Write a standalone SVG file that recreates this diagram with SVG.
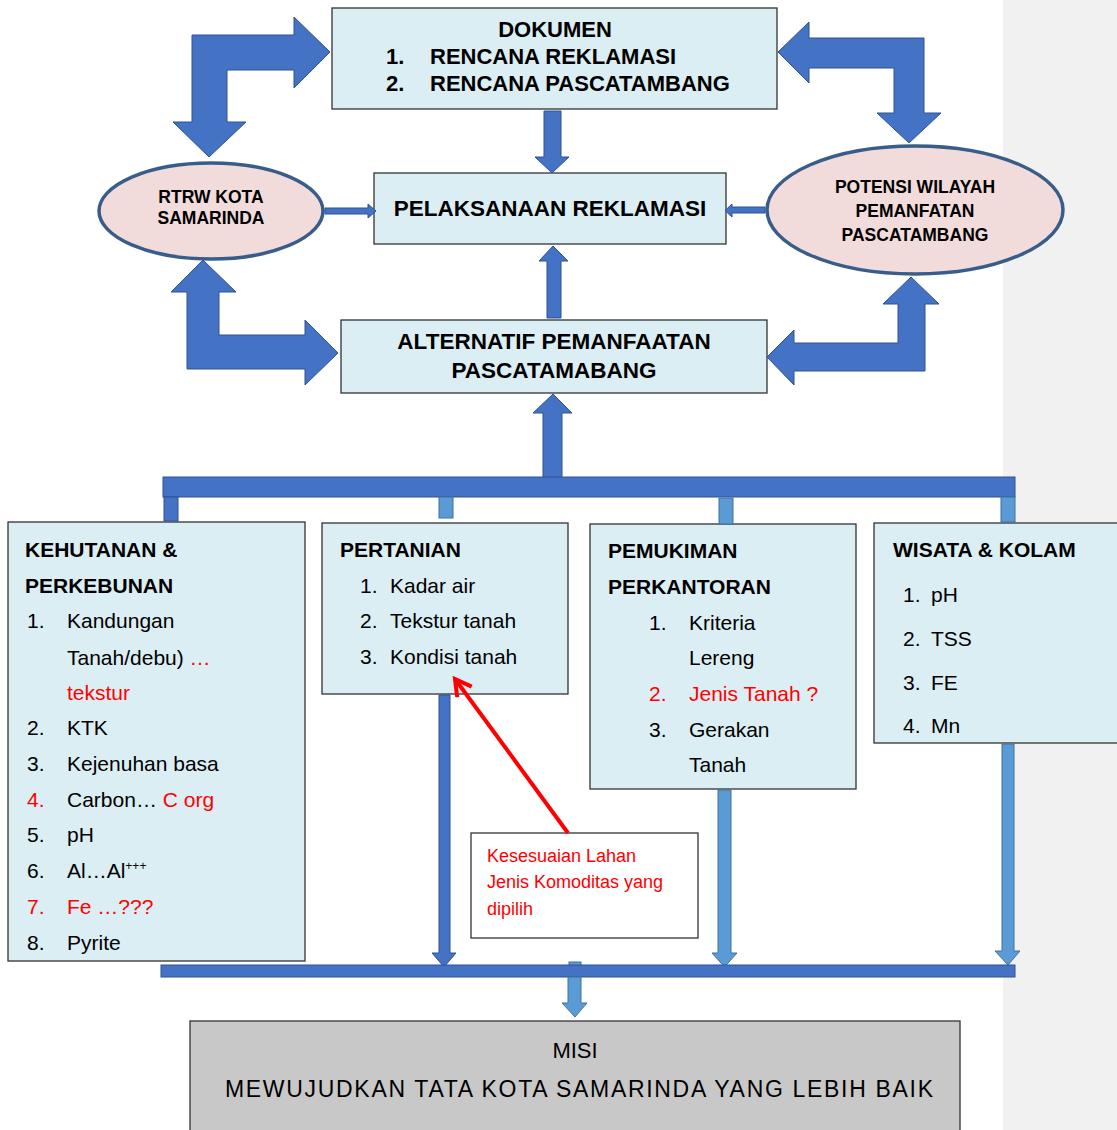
<svg xmlns="http://www.w3.org/2000/svg" width="1117" height="1130" viewBox="0 0 1117 1130">
<style>
.box{fill:#dbeef4;stroke:#333;stroke-width:1.3}
.ell{fill:#f2dcdb;stroke:#385d8a;stroke-width:3.5}
.ba{fill:#4472c4;stroke:#2f528f;stroke-width:1}
.la{fill:#5b9bd5;stroke:#41719c;stroke-width:1}
.t1{font-family:"Liberation Sans",Arial,sans-serif;font-weight:bold;fill:#000}
.hw{font-family:"Liberation Sans",Arial,sans-serif;font-size:21px;fill:#000}
.hh{font-family:"Liberation Sans",Arial,sans-serif;font-size:21px;font-weight:bold;fill:#000}
.red{fill:#ff0000}
</style>
<defs>
<marker id="redhead" markerUnits="userSpaceOnUse" markerWidth="24" markerHeight="24" refX="18" refY="10" orient="auto">
<path d="M2,1 L18,10 L2,19" fill="none" stroke="#ff0000" stroke-width="4" stroke-linejoin="miter"/>
</marker>
</defs>
<rect x="1003" y="0" width="114" height="1130" fill="#f1f1f1"/>

<g id="dokumen">
<rect class="box" x="332" y="8" width="445" height="101"/>
<text class="t1" font-size="22" x="555" y="37" text-anchor="middle">DOKUMEN</text>
<text class="t1" font-size="22" x="386" y="64">1.</text>
<text class="t1" font-size="22" x="430" y="64">RENCANA REKLAMASI</text>
<text class="t1" font-size="22" x="386" y="91">2.</text>
<text class="t1" font-size="22" x="430" y="91">RENCANA PASCATAMBANG</text>
</g>

<g id="pelaksanaan">
<rect class="box" x="374" y="173" width="352" height="71"/>
<text class="t1" font-size="22.5" x="550" y="216" text-anchor="middle">PELAKSANAAN REKLAMASI</text>
</g>

<g id="alternatif">
<rect class="box" x="341" y="320" width="426" height="73"/>
<text class="t1" font-size="22.5" x="554" y="349" text-anchor="middle">ALTERNATIF PEMANFAATAN</text>
<text class="t1" font-size="22.5" x="554" y="378" text-anchor="middle">PASCATAMABANG</text>
</g>

<g id="rtrw">
<ellipse class="ell" cx="211" cy="211" rx="112" ry="48"/>
<text class="t1" font-size="17.5" x="211" y="203" text-anchor="middle">RTRW KOTA</text>
<text class="t1" font-size="17.5" x="211" y="224" text-anchor="middle">SAMARINDA</text>
</g>

<g id="potensi">
<ellipse class="ell" cx="915" cy="210" rx="148" ry="64"/>
<text class="t1" font-size="17.5" x="915" y="193" text-anchor="middle">POTENSI WILAYAH</text>
<text class="t1" font-size="17.5" x="915" y="217" text-anchor="middle">PEMANFATAN</text>
<text class="t1" font-size="17.5" x="915" y="241" text-anchor="middle">PASCATAMBANG</text>
</g>

<g id="kehutanan">
<rect class="box" x="8" y="522" width="297" height="439"/>
<text class="hh" x="25" y="557">KEHUTANAN &amp;</text>
<text class="hh" x="25" y="593">PERKEBUNAN</text>
<text class="hw" x="27" y="628">1.</text><text class="hw" x="67" y="628">Kandungan</text>
<text class="hw" x="67" y="665">Tanah/debu) <tspan class="red">…</tspan></text>
<text class="hw red" x="67" y="700">tekstur</text>
<text class="hw" x="27" y="735">2.</text><text class="hw" x="67" y="735">KTK</text>
<text class="hw" x="27" y="771">3.</text><text class="hw" x="67" y="771">Kejenuhan basa</text>
<text class="hw red" x="27" y="807">4.</text><text class="hw" x="67" y="807">Carbon… <tspan class="red">C org</tspan></text>
<text class="hw" x="27" y="842">5.</text><text class="hw" x="67" y="842">pH</text>
<text class="hw" x="27" y="878">6.</text><text class="hw" x="67" y="878">Al…Al<tspan font-size="12" dy="-8">+++</tspan></text>
<text class="hw red" x="27" y="914">7.</text><text class="hw red" x="67" y="914">Fe …???</text>
<text class="hw" x="27" y="950">8.</text><text class="hw" x="67" y="950">Pyrite</text>
</g>

<g id="pertanian">
<rect class="box" x="322" y="523" width="246" height="171"/>
<text class="hh" x="340" y="557">PERTANIAN</text>
<text class="hw" x="360" y="593">1.</text><text class="hw" x="390" y="593">Kadar air</text>
<text class="hw" x="360" y="628">2.</text><text class="hw" x="390" y="628">Tekstur tanah</text>
<text class="hw" x="360" y="664">3.</text><text class="hw" x="390" y="664">Kondisi tanah</text>
</g>

<g id="pemukiman">
<rect class="box" x="590" y="524" width="266" height="265"/>
<text class="hh" x="608" y="558">PEMUKIMAN</text>
<text class="hh" x="608" y="594">PERKANTORAN</text>
<text class="hw" x="649" y="630">1.</text><text class="hw" x="689" y="630">Kriteria</text>
<text class="hw" x="689" y="665">Lereng</text>
<text class="hw red" x="649" y="701">2.</text><text class="hw red" x="689" y="701">Jenis Tanah ?</text>
<text class="hw" x="649" y="737">3.</text><text class="hw" x="689" y="737">Gerakan</text>
<text class="hw" x="689" y="772">Tanah</text>
</g>

<g id="wisata">
<rect class="box" x="874" y="523" width="260" height="220"/>
<text class="hh" x="893" y="557">WISATA &amp; KOLAM</text>
<text class="hw" font-size="26" x="903" y="602">1.</text><text class="hw" font-size="19" x="931" y="602">pH</text>
<text class="hw" font-size="26" x="903" y="646">2.</text><text class="hw" font-size="19" x="931" y="646">TSS</text>
<text class="hw" font-size="26" x="903" y="690">3.</text><text class="hw" font-size="19" x="931" y="690">FE</text>
<text class="hw" font-size="26" x="903" y="733">4.</text><text class="hw" font-size="19" x="931" y="733">Mn</text>
</g>

<g id="callout">
<rect x="471" y="833" width="227" height="105" fill="#fff" stroke="#333" stroke-width="1.3"/>
<text font-family="Liberation Sans,Arial,sans-serif" font-size="18" fill="#ff0000" x="487" y="862">Kesesuaian Lahan</text>
<text font-family="Liberation Sans,Arial,sans-serif" font-size="18" fill="#ff0000" x="487" y="888">Jenis Komoditas yang</text>
<text font-family="Liberation Sans,Arial,sans-serif" font-size="18" fill="#ff0000" x="487" y="915">dipilih</text>
</g>

<g id="misi">
<rect x="190" y="1021" width="770" height="120" fill="#c8c8c8" stroke="#333" stroke-width="1.3"/>
<text font-family="Liberation Sans,Arial,sans-serif" font-size="22" fill="#000" x="575" y="1058" text-anchor="middle">MISI</text>
<text font-family="Liberation Sans,Arial,sans-serif" font-size="23" fill="#000" x="225" y="1097" textLength="708" lengthAdjust="spacing">MEWUJUDKAN TATA KOTA SAMARINDA YANG LEBIH BAIK</text>
</g>

<g id="connectors">
<polygon class="ba" points="192,35 294,35 294,17 330,52 294,88 294,70 227,70 227,122 246,122 209,157 173,122 192,122"/>
<polygon class="ba" points="203,260 236,292 219,292 219,335 305,335 305,320 338,353 305,385 305,369 187,369 187,292 171,292"/>
<polygon class="ba" points="778,52 809,22 809,38 924,38 924,113 941,113 909,143 877,113 894,113 894,68 809,68 809,83"/>
<polygon class="ba" points="911,277 939,304 925,304 925,371 794,371 794,385 767,357 794,330 794,343 898,343 898,304 883,304"/>
<polygon class="ba" points="544,111 561,111 561,157 569,157 552,173 535,157 544,157"/>
<polygon class="ba" points="553,246 568,261 561,261 561,318 547,318 547,261 539,261"/>
<polygon class="ba" points="325,208 368,208 368,204 376,211 368,218 368,214 325,214"/>
<polygon class="ba" points="765,207 732,207 732,204 725,210.5 732,217 732,213 765,213"/>
<polygon class="ba" points="553,394 572,413 562,413 562,478 543,478 543,413 533,413"/>
<rect class="ba" x="163" y="477" width="852" height="20"/>
<rect class="ba" x="164" y="497" width="14" height="24"/>
<rect class="la" x="439" y="497" width="14" height="21"/>
<rect class="la" x="719" y="498" width="14" height="26"/>
<rect class="la" x="1001" y="497" width="14" height="25"/>
<polygon class="ba" points="439,695 450,695 450,953 456,953 444,967 432,953 439,953"/>
<polygon class="la" points="718,790 731,790 731,953 737,953 724.5,967 712,953 718,953"/>
<polygon class="la" points="1002,744 1014,744 1014,951 1020,951 1008,965 995,951 1002,951"/>
<rect class="la" x="569" y="962" width="12" height="5"/>
<rect class="ba" x="161" y="965" width="854" height="12"/>
<polygon class="la" points="568,977 581,977 581,1003 587,1003 575,1017 562,1003 568,1003"/>
<line x1="568" y1="833" x2="455" y2="679" stroke="#ff0000" stroke-width="4" marker-end="url(#redhead)"/>
</g>
</svg>
